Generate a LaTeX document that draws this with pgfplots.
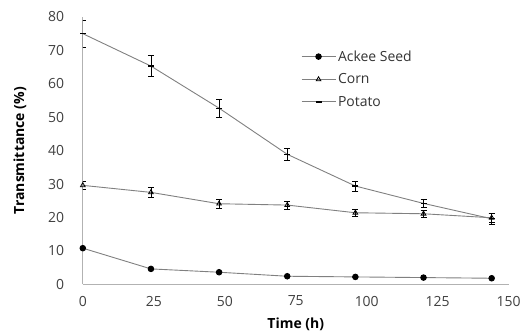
\documentclass[border=0pt]{standalone}
\usepackage{pgfplots}
\pgfplotsset{compat=1.18}
\usepackage{fontspec}
\setmainfont{Open Sans}
\begin{document}
\begin{tikzpicture}
\begin{axis}[
  name=ax,
  scale only axis, width=427pt, height=268pt,
  xmin=0, xmax=150, ymin=0, ymax=80,
  xtick={0,25,...,150}, ytick={0,10,...,80},
  axis x line=bottom, axis y line=left,
  axis line style={draw=gray!60, line width=0.9pt, -},
  tick style={draw=none},
  /pgf/number format/assume math mode=true,
  tick label style={font=\fontsize{14}{16}\selectfont, text=black!75},
  yticklabel style={xshift=-13pt},
  xticklabel style={yshift=-6pt},
  xlabel={\textbf{Time (h)}}, ylabel={\textbf{Transmittance (\%)}},
  every axis x label/.style={at={(axis description cs:0.5,-0.149)}, anchor=center, font=\fontsize{14}{16}\selectfont},
  every axis y label/.style={at={(axis description cs:-0.1475,0.5)}, rotate=90, anchor=center, font=\fontsize{14}{16}\selectfont},
  legend style={draw=none, fill=none, at={(0.505,0.89)}, anchor=north west,
    font=\fontsize{14}{16}\selectfont, row sep=7pt, text=black!80},
  legend cell align=left,
  legend image code/.code={\draw[#1, mark repeat=2, mark phase=2] plot coordinates {(0cm,0cm) (0.6cm,0cm) (1.2cm,0cm)};},
  error bars/error bar style={black, line width=0.6pt},
  error bars/error mark options={rotate=90, mark size=3pt, black, line width=0.6pt},
]
\addplot[gray, line width=0.9pt, mark=*, mark size=2.8pt, mark options={black, fill=black}]
coordinates {(0,10.8) (24,4.6) (48,3.6) (72,2.4) (96,2.2) (120,2.0) (144,1.8)};
\addlegendentry{Ackee Seed}
\addplot[gray, line width=0.9pt, mark=triangle, mark size=2.7pt, mark options={black, fill=white, line width=0.8pt},
  error bars/.cd, y dir=both, y explicit]
coordinates {(0,29.6) +- (0,1.3) (24,27.5) +- (0,1.5) (48,24.1) +- (0,1.3) (72,23.7) +- (0,1.2) (96,21.4) +- (0,1.0) (120,21.1) +- (0,1.0) (144,19.9) +- (0,1.3)};
\addlegendentry{Corn}
\addplot[gray, line width=0.9pt, mark=-, mark size=3pt, mark options={black, line width=1.3pt},
  error bars/.cd, y dir=both, y explicit]
coordinates {(0,75) +- (0,4) (24,65.3) +- (0,3.2) (48,52.7) +- (0,2.6) (72,38.9) +- (0,1.8) (96,29.4) +- (0,1.5) (120,24.2) +- (0,1.3) (144,19.6) +- (0,1.6)};
\addlegendentry{Potato}
\end{axis}
\path ([yshift=17pt]ax.north) ([yshift=-50pt]ax.south) ([xshift=-83pt]ax.west) ([xshift=14pt]ax.east);
\end{tikzpicture}
\end{document}
